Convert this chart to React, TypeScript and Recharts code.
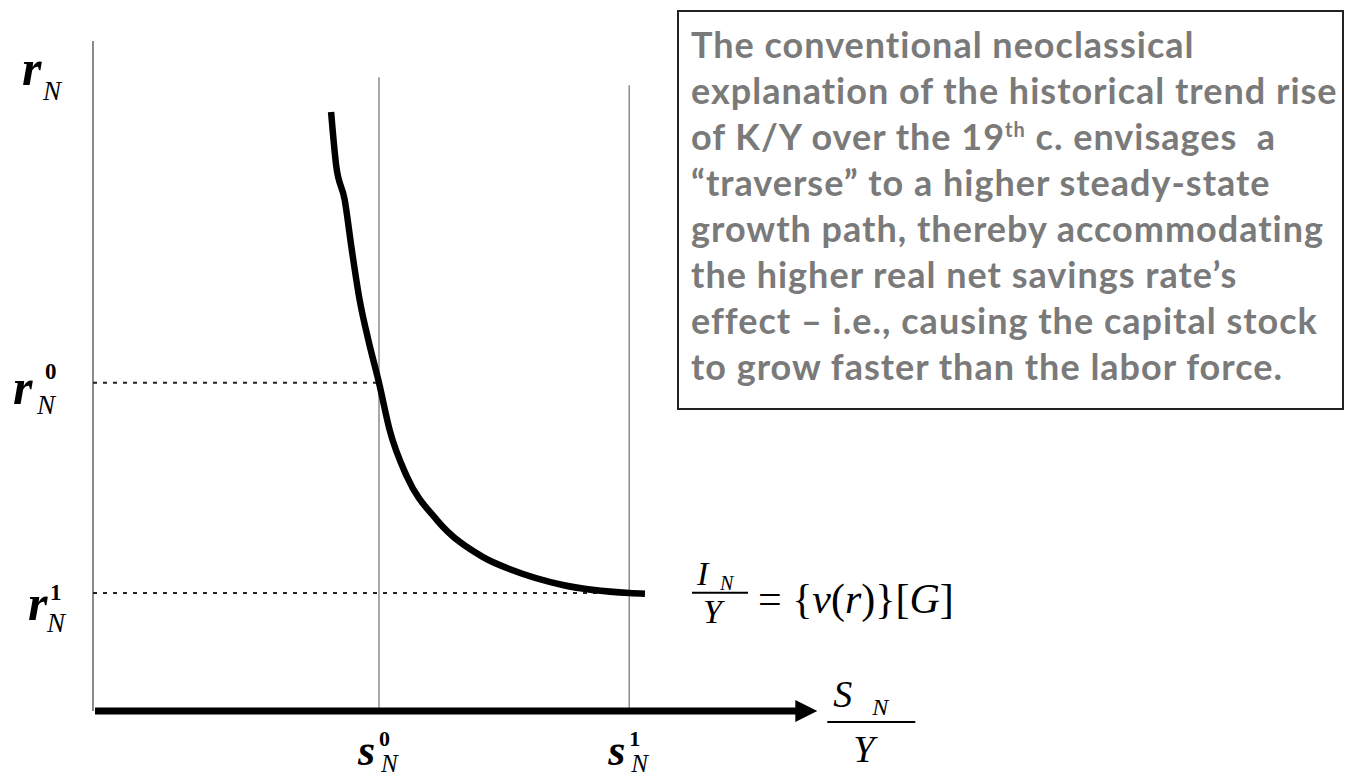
import React from 'react';
import { LineChart, Line, XAxis, YAxis, ReferenceLine, ReferenceDot } from 'recharts';

// investment-ratio curve: S_N/Y against r_N
const savingsRatio = [3.33, 3.4, 3.52, 3.62, 3.73, 3.85, 4.0, 4.15, 4.39, 4.81, 5.45, 5.87, 6.57, 7.5, 7.72];
const netRate = [8.94, 8.15, 7.63, 6.88, 6.13, 5.54, 4.9, 4.19, 3.5, 2.85, 2.3, 2.1, 1.88, 1.76, 1.75];

// s_N^0, s_N^1 guides and r_N^0, r_N^1 levels
const sMarks = [4, 7.5];
const sMarkTops = [9.46, 9.34];
const rMarks = [4.9, 1.76];
const markSups = ['0', '1'];

const X_MAX = 10.2;
const Y_MAX = 10;
const ARROW_END = 10.13;

const noteLines: (string | [string, string, string])[] = [
  'The conventional neoclassical',
  'explanation of the historical trend rise',
  ['of K/Y over the 19', 'th', ' c. envisages  a'],
  '\u201Ctraverse\u201D to a higher steady-state',
  'growth path, thereby accommodating',
  'the higher real net savings rate\u2019s',
  'effect \u2013 i.e., causing the capital stock',
  'to grow faster than the labor force.',
];

const data = savingsRatio.map((s, i) => ({ s, r: netRate[i] }));

const SERIF = "'Liberation Serif', 'DejaVu Serif', serif";

const mathText = (x: number, y: number, text: string, size: number, bold = false, italic = true) => (
  <text
    x={x}
    y={y}
    fontFamily={SERIF}
    fontSize={size}
    fontStyle={italic ? 'italic' : 'normal'}
    fontWeight={bold ? 'bold' : 'normal'}
    fill="#000"
  >
    {text}
  </text>
);

// small per-label nudges for the r labels on the left
const rLabelShift = [
  { dx: -80, dy: 21, supDx: -48, supDy: -4, nDx: -56, nDy: 31 },
  { dx: -65, dy: 27, supDx: -43, supDy: 7, nDx: -46, nDy: 39 },
];

const ArrowAxis = (props: any) => {
  const { x1, y1, x2, y2 } = props;
  const head = 22;
  return (
    <g>
      <line x1={x1 + 2} y1={y1} x2={x2 - head + 1} y2={y2} stroke="#000" strokeWidth={7} />
      <polygon points={`${x2},${y2} ${x2 - head},${y2 - 11} ${x2 - head},${y2 + 11}`} fill="#000" />
    </g>
  );
};

export default function App() {
  return (
    <div style={{ position: 'absolute', left: 0, top: 0, width: 1346, height: 777, background: '#fff' }}>
      <LineChart
        width={1346}
        height={777}
        data={data}
        margin={{ top: 41, left: 93, right: 1346 - 93 - X_MAX * 71.5, bottom: 66 }}
      >
        <XAxis type="number" dataKey="s" domain={[0, X_MAX]} hide />
        <YAxis type="number" domain={[0, Y_MAX]} hide />

        {/* vertical axis */}
        <ReferenceLine
          segment={[{ x: 0, y: 0 }, { x: 0, y: Y_MAX }]}
          stroke="#8a8a8a"
          strokeWidth={2}
          label={(p: any) => (
            <g>
              {mathText(p.viewBox.x - 71, p.viewBox.y + 44, 'r', 50, true)}
              {mathText(p.viewBox.x - 50, p.viewBox.y + 59, 'N', 27)}
            </g>
          )}
        />

        {sMarks.map((s, i) => (
          <ReferenceLine
            key={`s-${i}`}
            segment={[{ x: s, y: 0 }, { x: s, y: sMarkTops[i] }]}
            stroke="#8c8c8c"
            strokeWidth={1.5}
            label={(p: any) => {
              const { x, y, height } = p.viewBox;
              const b = y + height;
              return (
                <g>
                  {mathText(x - 21, b + 54, 's', 44, true)}
                  {mathText(x, b + 35, markSups[i], 22, true, false)}
                  {mathText(x + 2, b + 61, 'N', 25)}
                </g>
              );
            }}
          />
        ))}

        {rMarks.map((r, i) => (
          <ReferenceLine
            key={`r-${i}`}
            segment={[{ x: 0, y: r }, { x: sMarks[i], y: r }]}
            stroke="#222"
            strokeWidth={2}
            strokeDasharray="4 6"
            label={(p: any) => {
              const { x, y } = p.viewBox;
              const o = rLabelShift[i];
              return (
                <g>
                  {mathText(x + o.dx, y + o.dy, 'r', 50, true)}
                  {mathText(x + o.supDx, y + o.supDy, markSups[i], 23, true, false)}
                  {mathText(x + o.nDx, y + o.nDy, 'N', 27)}
                </g>
              );
            }}
          />
        ))}

        {/* horizontal axis with arrow */}
        <ReferenceLine
          segment={[{ x: 0, y: 0 }, { x: ARROW_END, y: 0 }]}
          shape={ArrowAxis}
          label={(p: any) => {
            const { x, y, width } = p.viewBox;
            const e = x + width;
            return (
              <g>
                {mathText(e + 16, y - 4, 'S', 38)}
                {mathText(e + 55, y + 4, 'N', 24)}
                <line x1={e + 10} y1={y + 11} x2={e + 98} y2={y + 11} stroke="#000" strokeWidth={2} />
                {mathText(e + 36, y + 51, 'Y', 38)}
              </g>
            );
          }}
        />

        <Line
          type="monotone"
          dataKey="r"
          stroke="#000"
          strokeWidth={6.5}
          dot={false}
          isAnimationActive={false}
        />

        <ReferenceDot
          x={savingsRatio[savingsRatio.length - 1]}
          y={netRate[netRate.length - 1]}
          r={0}
          stroke="none"
          fill="none"
          label={(p: any) => {
            const { x, y } = p.viewBox;
            return (
              <g>
                {mathText(x + 52, y - 9, 'I', 34)}
                {mathText(x + 75, y - 4, 'N', 20)}
                <line x1={x + 47} y1={y - 1} x2={x + 103} y2={y - 1} stroke="#000" strokeWidth={2} />
                {mathText(x + 58, y + 29, 'Y', 34)}
                <text x={x + 113} y={y + 19} fontFamily={SERIF} fontSize={42} fill="#000">
                  {'= {'}
                  <tspan fontStyle="italic">v</tspan>
                  {'('}
                  <tspan fontStyle="italic">r</tspan>
                  {')}['}
                  <tspan fontStyle="italic">G</tspan>
                  {']'}
                </text>
              </g>
            );
          }}
        />
      </LineChart>

      <div
        style={{
          position: 'absolute',
          left: 677,
          top: 10,
          width: 1344 - 677,
          height: 400,
          boxSizing: 'border-box',
          border: '2px solid #222',
          background: '#fff',
          padding: '9px 0 0 12px',
          fontFamily: "Lato, 'Open Sans', sans-serif",
          fontWeight: 'bold',
          fontSize: 36,
          letterSpacing: 1,
          lineHeight: '46px',
          color: '#7a7a7a',
          whiteSpace: 'pre',
          overflow: 'hidden',
        }}
      >
        {noteLines.map((line, i) =>
          typeof line === 'string' ? (
            <div key={i}>{line}</div>
          ) : (
            <div key={i}>
              {line[0]}
              <sup style={{ fontSize: 20, lineHeight: 0 }}>{line[1]}</sup>
              {line[2]}
            </div>
          )
        )}
      </div>
    </div>
  );
}
